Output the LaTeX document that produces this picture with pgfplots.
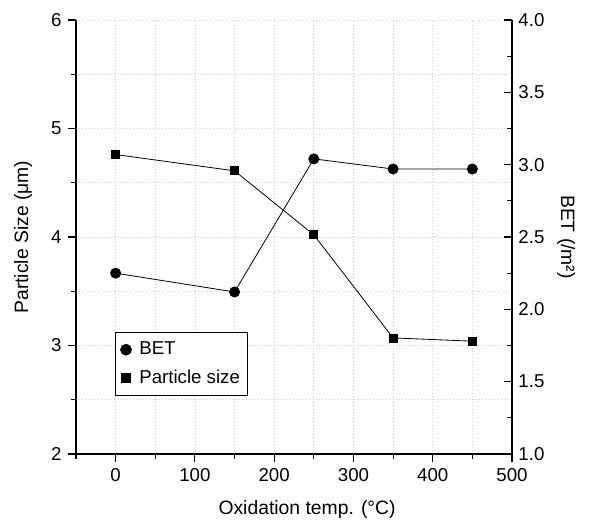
\documentclass[border=0pt]{standalone}
\usepackage{fontspec}
\setmainfont{Liberation Sans}
\usepackage{pgfplots}
\pgfplotsset{compat=1.18}
\begin{document}
\begin{tikzpicture}
\fontsize{14}{16}\selectfont
\path[use as bounding box] (-57pt,-53.25pt) rectangle (385.5pt,340.5pt);
\begin{axis}[
  at={(0,0)}, anchor=south west,
  scale only axis, width=327pt, height=325.5pt,
  xmin=-50, xmax=500, ymin=2, ymax=6,
  axis y line*=left, axis x line*=bottom,
  xtick={0,100,...,500}, minor xtick={-50,50,150,250,350,450},
  ytick={2,3,4,5,6}, minor ytick={2.5,3.5,4.5,5.5},
  tick align=outside,
  major tick length=6pt, minor tick length=4pt,
  every tick/.style={black, line width=0.8pt},
  axis line style={line width=1.1pt},
  grid=both,
  major grid style={gray!35, dotted, line width=0.5pt},
  minor grid style={gray!35, dotted, line width=0.5pt},
  /pgf/number format/assume math mode=true,
  ticklabel style={font=\fontsize{14}{16}\selectfont},
  xlabel={Oxidation temp. (°C)},
  ylabel={Particle Size (μm)},
  label style={font=\fontsize{14.5}{17}\selectfont},
  xlabel style={at={(axis description cs:0.53,0)}, anchor=north, yshift=-30pt},
  ylabel style={at={(axis description cs:0,0.5)}, anchor=south, yshift=28pt},
]
\addplot[black, line width=0.6pt, mark=square*, mark size=3pt] coordinates {
(0,4.76) (150,4.61) (250,4.02) (350,3.07) (450,3.04)};
\end{axis}
\begin{axis}[
  at={(0,0)}, anchor=south west,
  scale only axis, width=327pt, height=325.5pt,
  xmin=-50, xmax=500, ymin=1, ymax=4,
  axis y line*=right, axis x line=none,
  ytick={1,1.5,...,4}, minor ytick={1.25,1.75,...,3.75},
  tick align=inside,
  major tick length=6pt, minor tick length=4pt,
  every tick/.style={black, line width=0.8pt},
  axis line style={line width=1.1pt},
  /pgf/number format/assume math mode=true,
  /pgf/number format/fixed, /pgf/number format/fixed zerofill,
  /pgf/number format/precision=1,
  yticklabel style={font=\fontsize{14}{16}\selectfont},
  ylabel={BET (/m²)},
  ylabel style={font=\fontsize{14.5}{17}\selectfont, rotate=180},
  legend style={at={(0.089,0.281)}, anchor=north west, draw=black, line width=0.8pt,
    font=\fontsize{14}{16}\selectfont, row sep=5pt, inner xsep=4pt, inner ysep=5pt,
    /tikz/every odd column/.append style={column sep=4pt}},
  legend cell align=left,
]
\addplot[black, line width=0.6pt, mark=*, mark size=3.8pt, forget plot] coordinates {
(0,2.25) (150,2.12) (250,3.04) (350,2.97) (450,2.97)};
\addlegendimage{only marks, mark=*, mark size=4pt, black}
\addlegendentry{BET}
\addlegendimage{only marks, mark=square*, mark size=3.5pt, black}
\addlegendentry{Particle size}
\end{axis}
\end{tikzpicture}
\end{document}
